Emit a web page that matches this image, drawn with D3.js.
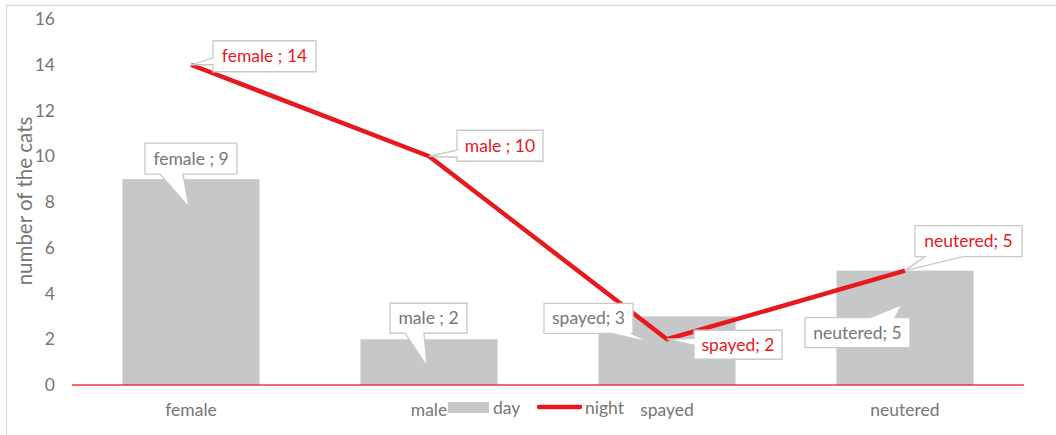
<!DOCTYPE html>
<html><head><meta charset="utf-8">
<script src="https://cdn.jsdelivr.net/npm/d3@7"></script>
<style>
html,body{margin:0;padding:0;background:#fff;}
text{font-family:Lato,"Open Sans",sans-serif;}
</style></head>
<body>
<svg id="c" width="1056" height="435"></svg>
<script>
const categories = ["female","male","spayed","neutered"];
const dayValues = [9,2,3,5];
const nightValues = [14,10,2,5];
const dayLabels = ["female ; 9","male ; 2","spayed; 3","neutered; 5"];
const nightLabels = ["female ; 14","male ; 10","spayed; 2","neutered; 5"];
const yTicks = [0,2,4,6,8,10,12,14,16];
const seriesNames = ["day","night"];
const yTitle = "number of the cats";

const RED = "#E8181F", BAR = "#C6C7C9", GRAY = "#767676", BOX = "#c9c9c9";
const FS = "17.5px";
const svg = d3.select("#c");

// frame
svg.append("line").attr("x1",6).attr("x2",1056).attr("y1",5.5).attr("y2",5.5).attr("stroke","#dcdcdc").attr("stroke-width",1.5);
svg.append("line").attr("x1",6.5).attr("x2",6.5).attr("y1",5).attr("y2",435).attr("stroke","#dcdcdc").attr("stroke-width",1.5);

const x = d3.scaleBand().domain(categories).range([72,1024]).padding(0);
const xb = d3.scaleBand().domain(categories).range([72,1024]).paddingInner(0.424).paddingOuter(0.212);
const y = d3.scaleLinear().domain([0,16]).range([385,19]);

// y ticks
const yAxis = d3.axisLeft(y).tickValues(yTicks).tickSize(0).tickPadding(0);
const ya = svg.append("g").attr("transform","translate(55,0)").call(yAxis);
ya.select(".domain").remove();
ya.selectAll("text").attr("fill",GRAY).style("font-size","17.5px").style("font-family","Lato");

// y title
svg.append("text").attr("transform","translate(32,201) rotate(-90)").attr("text-anchor","middle")
  .attr("fill",GRAY).style("font-size","20.5px").text(yTitle);

// bars
svg.append("g").selectAll("rect").data(categories).join("rect")
  .attr("x",d=>xb(d)).attr("width",xb.bandwidth())
  .attr("y",(d,i)=>y(dayValues[i])).attr("height",(d,i)=>y(0)-y(dayValues[i]))
  .attr("fill",BAR);

// baseline
svg.append("line").attr("x1",72).attr("x2",1024).attr("y1",y(0)).attr("y2",y(0))
  .attr("stroke",RED).attr("stroke-width",1.5).attr("opacity",0.85);

// x labels
const xa = svg.append("g").attr("transform",`translate(0,${y(0)})`)
  .call(d3.axisBottom(x).tickSize(0).tickPadding(0));
xa.select(".domain").remove();
xa.selectAll("text").attr("dy",null).attr("y",31).attr("fill",GRAY).style("font-size",FS).style("font-family","Lato");

// line
const cx = d => x(d)+x.bandwidth()/2;
svg.append("path").datum(categories)
  .attr("d",d3.line().x(d=>cx(d)).y((d,i)=>y(nightValues[i])))
  .attr("fill","none").attr("stroke",RED).attr("stroke-width",4.5).attr("stroke-linejoin","round");

// callouts
function callout(box, side, a, b, tip){
  const [bx,by,bw,bh] = box, r=bx+bw, btm=by+bh;
  let p;
  if(side==="left") p=[[bx,by],[r,by],[r,btm],[bx,btm],[bx,b],tip,[bx,a]];
  else if(side==="bottom") p=[[bx,by],[r,by],[r,btm],[b,btm],tip,[a,btm],[bx,btm]];
  else p=[[bx,by],[a,by],tip,[b,by],[r,by],[r,btm],[bx,btm]];
  return "M"+p.map(q=>q.join(",")).join("L")+"Z";
}
// layout offsets (relative to data point) for each label
const dayLayout = [
  {box:[-46,-36,92,31], side:"bottom", a:-31, b:-8, tip:[-2,28]},
  {box:[-39,-36,77,30], side:"bottom", a:-24, b:-5, tip:[-2,27]},
  {box:[-123,-13,89,30], side:"bottom", a:-55, b:-36, tip:[-17,26]},
  {box:[-100,47,105,30], side:"top", a:-35, b:-10, tip:[-3,34]}
];
const nightLayout = [
  {box:[22,-24,103,31], side:"left", a:-7, b:0, tip:[0,0]},
  {box:[28,-26,86,31], side:"left", a:-6, b:1, tip:[0,0]},
  {box:[27,-9,88,29], side:"left", a:-1, b:6, tip:[0,0]},
  {box:[10,-45,107,31], side:"bottom", a:20, b:58, tip:[0,0]}
];
function drawLabels(vals, labels, layout, color){
  categories.forEach((c,i)=>{
    const px = cx(c), py = y(vals[i]);
    const L = layout[i];
    const box=[px+L.box[0],py+L.box[1],L.box[2],L.box[3]];
    const horiz = L.side==="left";
    const a = horiz ? py+L.a : px+L.a, b = horiz ? py+L.b : px+L.b;
    svg.append("path").attr("d",callout(box,L.side,a,b,[px+L.tip[0],py+L.tip[1]]))
      .attr("fill","#fff").attr("stroke",BOX).attr("stroke-width",1.3);
    svg.append("text").attr("x",box[0]+box[2]/2).attr("y",box[1]+box[3]/2+6)
      .attr("text-anchor","middle").attr("fill",color).style("font-size",FS).text(labels[i]);
  });
}
drawLabels(dayValues, dayLabels, dayLayout, GRAY);
drawLabels(nightValues, nightLabels, nightLayout, RED);

// legend
const lg = svg.append("g");
lg.append("rect").attr("x",448).attr("y",402).attr("width",41).attr("height",11).attr("fill",BAR);
lg.append("text").attr("x",493).attr("y",414).attr("fill",GRAY).style("font-size",FS).text(seriesNames[0]);
lg.append("line").attr("x1",539).attr("x2",580).attr("y1",407).attr("y2",407).attr("stroke",RED).attr("stroke-width",4.5).attr("stroke-linecap","round");
lg.append("text").attr("x",585).attr("y",414).attr("fill",GRAY).style("font-size",FS).text(seriesNames[1]);
</script>
</body></html>
